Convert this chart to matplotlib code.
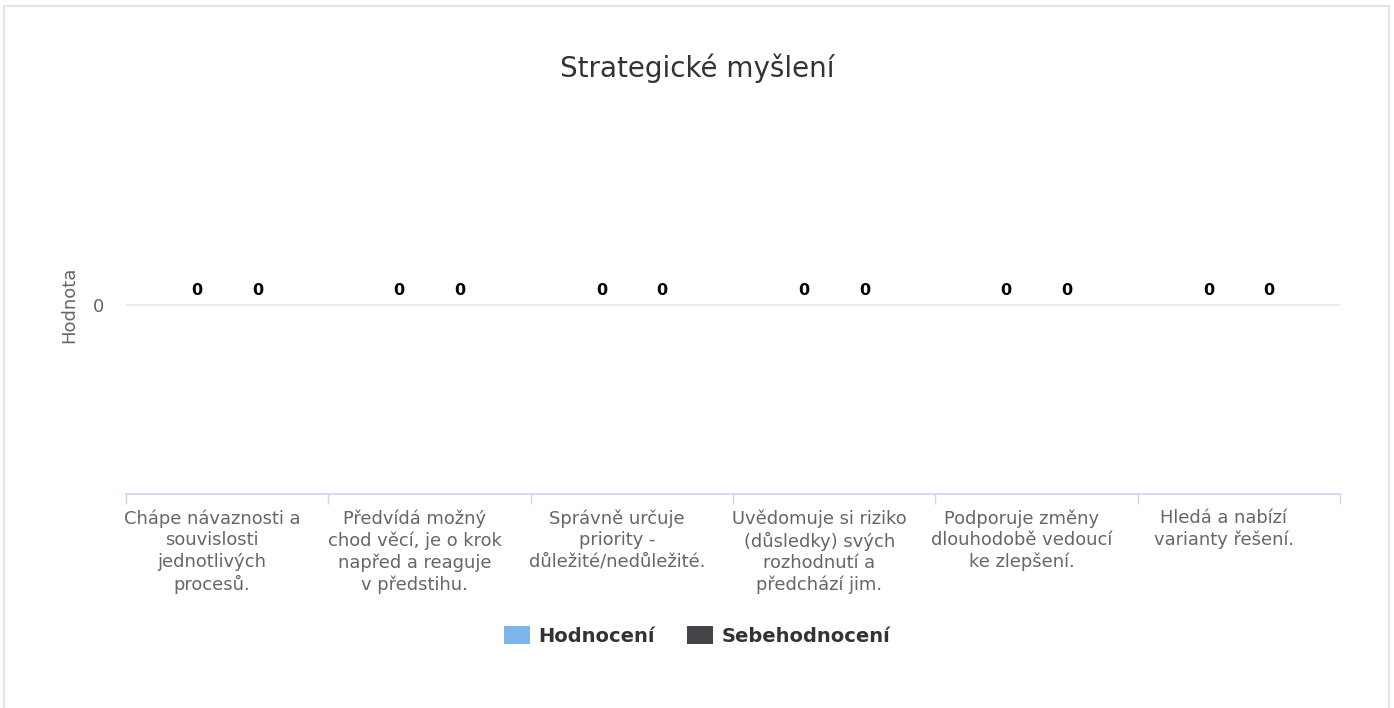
import matplotlib
matplotlib.use("Agg")
import matplotlib.pyplot as plt
import matplotlib.transforms as mtransforms
import numpy as np
from matplotlib.patches import Patch
from matplotlib.lines import Line2D

# data
categories = [
    "Chápe návaznosti a\nsouvislosti\njednotlivých\nprocesů.",
    "Předvídá možný\nchod věcí, je o krok\nnapřed a reaguje\nv předstihu.",
    "Správně určuje\npriority -\ndůležité/nedůležité.",
    "Uvědomuje si riziko\n(důsledky) svých\nrozhodnutí a\npředchází jim.",
    "Podporuje změny\ndlouhodobě vedoucí\nke zlepšení.",
    "Hledá a nabízí\nvarianty řešení.",
]
hodnoceni = [0, 0, 0, 0, 0, 0]
sebehodnoceni = [0, 0, 0, 0, 0, 0]
series_names = ["Hodnocení", "Sebehodnocení"]
series_colors = ["#7cb5ec", "#434348"]

plt.rcParams['font.family'] = ['DejaVu Sans']

W, H = 1394, 708
fig = plt.figure(figsize=(W / 100, H / 100), dpi=100)

# plot area in pixels: x 126..1340, y 116..494
ax = fig.add_axes([126 / W, (H - 494) / H, (1340 - 126) / W, (494 - 116) / H])

x = np.arange(len(categories))
bw = 0.3
bars1 = ax.bar(x - bw / 2, hodnoceni, bw, color=series_colors[0])
bars2 = ax.bar(x + bw / 2, sebehodnoceni, bw, color=series_colors[1])
for b in (bars1, bars2):
    ax.bar_label(b, padding=5, fontsize=11.5, fontweight='bold', color='black')

ax.set_xlim(-0.5, len(categories) - 0.5)
ax.set_ylim(-1, 1)

# y axis: single gridline at 0
ax.set_yticks([0])
ax.set_yticklabels(["0"])
ax.yaxis.grid(True, color='#e6e6e6', linewidth=1.2)
ax.tick_params(axis='y', length=0, pad=16, labelsize=13, labelcolor='#666666')
ax.set_ylabel("Hodnota", fontsize=13, color='#666666')
ax.yaxis.set_label_coords(-0.039, 0.5)

# x axis: labels centred, tick marks on category boundaries
ax.set_xticks(x)
ax.set_xticklabels(categories, fontsize=12.9, color='#666666', linespacing=1.25)
ax.set_xticks(np.arange(-0.5, len(categories)), minor=True)
ax.tick_params(axis='x', which='major', length=0, pad=11)
ax.tick_params(axis='x', which='minor', length=7.5, width=1, color='#ccd6eb',
               direction='out')
# labels in the original sit a little left of the category centre
shift = mtransforms.ScaledTranslation(-0.15, 0, fig.dpi_scale_trans)
for lbl in ax.get_xticklabels():
    lbl.set_transform(lbl.get_transform() + shift)

for s in ('top', 'right', 'left'):
    ax.spines[s].set_visible(False)
ax.spines['bottom'].set_color('#ccd6eb')
ax.spines['bottom'].set_linewidth(1.2)
ax.set_axisbelow(True)

fig.text(0.5, 1 - 68 / H, "Strategické myšlení", ha='center', va='center',
         fontsize=20, color='#333333')

handles = [Patch(facecolor=c, edgecolor='none', label=n)
           for c, n in zip(series_colors, series_names)]
fig.legend(handles=handles, loc='center', bbox_to_anchor=(697 / W, 1 - 636 / H),
           ncol=2, frameon=False, prop={'weight': 'bold', 'size': 14},
           labelcolor='#333333', handlelength=1.34, handleheight=1.03,
           handletextpad=0.42, columnspacing=1.65)

# outer light border
bc = '#e6e6e6'
fig.add_artist(Line2D([4 / W, 1389 / W], [1 - 6 / H, 1 - 6 / H], color=bc, lw=1.5))
fig.add_artist(Line2D([4 / W, 4 / W], [0, 1 - 6 / H], color=bc, lw=1.5))
fig.add_artist(Line2D([1389 / W, 1389 / W], [0, 1 - 6 / H], color=bc, lw=1.5))

fig.savefig("out.png", dpi=100)
